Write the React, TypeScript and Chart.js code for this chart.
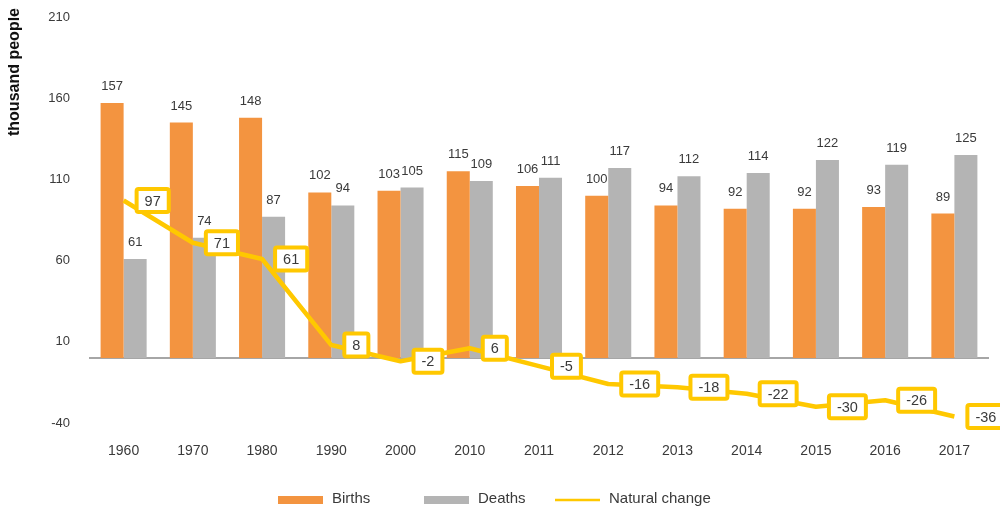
import React, { useEffect, useRef } from 'react';
import { Chart, registerables } from 'chart.js';

Chart.register(...registerables);

const years = ['1960', '1970', '1980', '1990', '2000', '2010', '2011', '2012', '2013', '2014', '2015', '2016', '2017'];
const births = [157, 145, 148, 102, 103, 115, 106, 100, 94, 92, 92, 93, 89];
const deaths = [61, 74, 87, 94, 105, 109, 111, 117, 112, 114, 122, 119, 125];
const naturalChange = [97, 71, 61, 8, -2, 6, -5, -16, -18, -22, -30, -26, -36];
const yTicks = [-40, 10, 60, 110, 160, 210];
const seriesNames = ['Births', 'Deaths', 'Natural change'];
const axisTitle = 'thousand people';

const ORANGE = '#F39440';
const GRAY = '#B4B4B4';
const YELLOW = '#FFC800';
const TEXT = '#3a3a3a';
const FONT = '"Liberation Sans", Arial, Helvetica, sans-serif';

// legend layout (offsets of each marker from the canvas centre)
const legendOffsets = [-230, -84, 47];
const legendMarkerWidth = 45;

const decorPlugin = {
  id: 'decor',
  beforeDatasetsDraw(chart: any) {
    const { ctx, chartArea, scales } = chart;
    const y0 = scales.y.getPixelForValue(0);
    ctx.save();
    ctx.strokeStyle = '#A6A6A6';
    ctx.lineWidth = 2;
    ctx.beginPath();
    ctx.moveTo(chartArea.left, y0);
    ctx.lineTo(chartArea.right, y0);
    ctx.stroke();
    ctx.restore();
  },
  afterDatasetsDraw(chart: any) {
    const ctx = chart.ctx;
    ctx.save();
    // bar value labels
    ctx.font = `13px ${FONT}`;
    ctx.fillStyle = TEXT;
    ctx.textAlign = 'center';
    ctx.textBaseline = 'alphabetic';
    [0, 1].forEach((di) => {
      const meta = chart.getDatasetMeta(di);
      meta.data.forEach((bar: any, i: number) => {
        ctx.fillText(String(chart.data.datasets[di].data[i]), bar.x, bar.y - 13);
      });
    });
    // natural change boxed labels
    const lm = chart.getDatasetMeta(2);
    ctx.font = `14.5px ${FONT}`;
    lm.data.forEach((pt: any, i: number) => {
      const txt = String(chart.data.datasets[2].data[i]);
      const tw = ctx.measureText(txt).width;
      const w = tw + 20;
      const h = 27;
      const x = pt.x + 11;
      const y = pt.y - h / 2;
      ctx.fillStyle = '#ffffff';
      ctx.strokeStyle = YELLOW;
      ctx.lineWidth = 4;
      ctx.beginPath();
      ctx.roundRect(x + 2, y + 2, w - 4, h - 4, 2);
      ctx.fill();
      ctx.stroke();
      ctx.fillStyle = TEXT;
      ctx.textAlign = 'center';
      ctx.textBaseline = 'middle';
      ctx.fillText(txt, x + w / 2, pt.y + 1);
    });
    // y axis title
    ctx.save();
    ctx.translate(7, 64);
    ctx.rotate(-Math.PI / 2);
    ctx.font = `bold 16px ${FONT}`;
    ctx.fillStyle = '#111111';
    ctx.textAlign = 'center';
    ctx.textBaseline = 'middle';
    ctx.fillText(axisTitle, 0, 0);
    ctx.restore();
    // legend
    const cx = chart.width / 2;
    const ly = chart.height - 10;
    ctx.font = `15px ${FONT}`;
    ctx.textAlign = 'left';
    ctx.textBaseline = 'middle';
    chart.data.datasets.forEach((ds: any, i: number) => {
      const x = cx + legendOffsets[i];
      if (i === 2) {
        ctx.strokeStyle = ds.borderColor;
        ctx.lineWidth = 2.5;
        ctx.beginPath();
        ctx.moveTo(x, ly);
        ctx.lineTo(x + legendMarkerWidth, ly);
        ctx.stroke();
      } else {
        ctx.fillStyle = ds.backgroundColor;
        ctx.fillRect(x, ly - 4, legendMarkerWidth, 8);
      }
      ctx.fillStyle = TEXT;
      ctx.fillText(ds.label, x + legendMarkerWidth + 9, ly - 1);
    });
    ctx.restore();
  },
};

export default function App() {
  const ref = useRef<HTMLCanvasElement>(null);
  useEffect(() => {
    if (!ref.current) return;
    const chart = new Chart(ref.current, {
      type: 'bar',
      data: {
        labels: years,
        datasets: [
          { label: seriesNames[0], data: births, backgroundColor: ORANGE, order: 1 } as any,
          { label: seriesNames[1], data: deaths, backgroundColor: GRAY, order: 1 } as any,
          {
            type: 'line',
            label: seriesNames[2],
            data: naturalChange,
            borderColor: YELLOW,
            backgroundColor: YELLOW,
            borderWidth: 4.5,
            pointRadius: 0,
            tension: 0,
            order: 0,
            borderJoinStyle: 'round',
          } as any,
        ],
      },
      options: {
        animation: false,
        responsive: true,
        maintainAspectRatio: false,
        layout: { padding: { top: 9, right: 19, left: 0, bottom: 47 } },
        datasets: { bar: { categoryPercentage: 0.665, barPercentage: 1 } } as any,
        scales: {
          x: {
            grid: { display: false, drawTicks: false },
            border: { display: false },
            ticks: { padding: 20, color: TEXT, font: { family: FONT, size: 14 } },
            afterFit(s: any) {
              s.height = 40;
            },
          },
          y: {
            min: -40,
            max: 210,
            afterBuildTicks(s: any) {
              s.ticks = yTicks.map((v) => ({ value: v }));
            },
            grid: { display: false, drawTicks: false },
            border: { display: false },
            ticks: { padding: 19, color: TEXT, font: { family: FONT, size: 13 } },
            afterFit(s: any) {
              s.width = 81;
              s.paddingTop = 0;
              s.paddingBottom = 0;
            },
          },
        },
        plugins: {
          legend: { display: false },
          tooltip: { enabled: false },
        },
      },
      plugins: [decorPlugin as any],
    });
    return () => chart.destroy();
  }, []);
  return (
    <div style={{ width: 1000, height: 502, position: 'relative' }}>
      <canvas ref={ref} />
    </div>
  );
}
